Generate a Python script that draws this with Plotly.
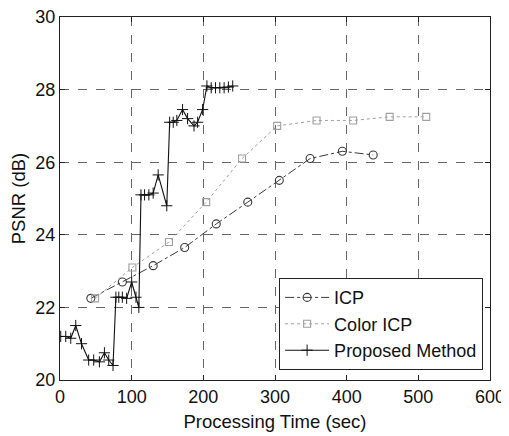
import plotly.graph_objects as go

# ICP
icp_x = [43, 87, 130, 174, 218, 262, 306, 349, 394, 437]
icp_y = [22.25, 22.7, 23.15, 23.65, 24.3, 24.9, 25.5, 26.1, 26.3, 26.2]

# Color ICP
cicp_x = [49, 101, 152, 204, 254, 303, 358, 409, 460, 511]
cicp_y = [22.25, 23.1, 23.8, 24.9, 26.1, 27.0, 27.15, 27.15, 27.25, 27.25]

# Proposed Method
prop_x = [1, 8, 15, 22, 30, 40, 47, 55, 62, 68, 74, 78, 82, 87, 93, 100, 106,
          110, 113, 118, 124, 130, 137, 149, 153, 158, 163, 171, 178, 187, 192,
          199, 205, 211, 217, 223, 229, 235, 241]
prop_y = [21.2, 21.2, 21.15, 21.5, 21.0, 20.55, 20.55, 20.5, 20.75, 20.55, 20.4,
          22.28, 22.28, 22.28, 22.25, 22.7, 22.28, 22.0, 25.1, 25.1, 25.1, 25.15,
          25.65, 24.8, 27.1, 27.1, 27.15, 27.45, 27.2, 27.0, 27.1, 27.45, 28.1,
          28.05, 28.05, 28.05, 28.05, 28.07, 28.1]

x_ticks = [0, 100, 200, 300, 400, 500, 600]
y_ticks = [20, 22, 24, 26, 28, 30]

FONT = "Liberation Sans, Arial, sans-serif"

fig = go.Figure()
fig.add_trace(go.Scatter(
    x=icp_x, y=icp_y, mode="lines+markers", name="ICP",
    line=dict(color="#3a3a3a", width=1, dash="dashdot"),
    marker=dict(symbol="circle-open", size=8, color="#3a3a3a", line=dict(width=1.1)),
))
fig.add_trace(go.Scatter(
    x=cicp_x, y=cicp_y, mode="lines+markers", name="Color ICP",
    line=dict(color="#a0a0a0", width=1, dash="dot"),
    marker=dict(symbol="square-open", size=7, color="#a0a0a0", line=dict(width=1.1)),
))
fig.add_trace(go.Scatter(
    x=prop_x, y=prop_y, mode="lines+markers", name="Proposed Method",
    line=dict(color="#111111", width=1.1),
    marker=dict(symbol="cross-thin-open", size=8, color="#111111", line=dict(width=1, color="#111111")),
))

axis_common = dict(
    showline=True, linecolor="#222", linewidth=1.2, mirror="ticks",
    ticks="inside", ticklen=5, tickcolor="#222",
    showgrid=True, gridcolor="#666", gridwidth=1, griddash="dash",
    zeroline=False, automargin=False, ticklabeloverflow="allow",
    tickfont=dict(family=FONT, size=18, color="#111"),
    title_font=dict(family=FONT, size=18.5, color="#111"),
)

fig.update_xaxes(range=[0, 600], tickvals=x_ticks, title_text="Processing Time (sec)",
                 title_standoff=9, **axis_common)
fig.update_yaxes(range=[20, 30], tickvals=y_ticks, title_text="PSNR (dB)",
                 title_standoff=5, **axis_common)

fig.update_layout(
    width=501, height=428,
    margin=dict(l=52, r=19, t=9, b=56),
    paper_bgcolor="white", plot_bgcolor="white",
    font=dict(family=FONT, size=18, color="#111"),
    showlegend=True,
    legend=dict(
        x=0.984, y=0.027, xanchor="right", yanchor="bottom",
        bgcolor="white", bordercolor="#222", borderwidth=1,
        font=dict(size=18), tracegroupgap=0, itemwidth=44,
    ),
)

fig.write_html("out.html")
